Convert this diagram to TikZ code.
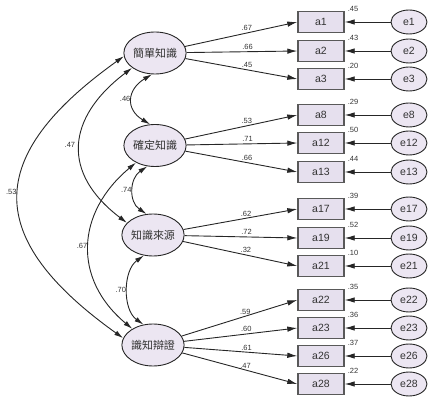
\documentclass[tikz,border=0pt]{standalone}
\usepackage{fontspec}
\setmainfont{Liberation Sans}
\newfontfamily\cjk{Noto Sans CJK TC}
\usetikzlibrary{arrows.meta,shapes.geometric}
\definecolor{lavfill}{HTML}{ECE6F2}
\definecolor{boxfill}{HTML}{E6E0EE}
\definecolor{txtgray}{HTML}{333333}

\begin{document}
\begin{tikzpicture}[x=1pt, y=-1pt,
  latent/.style={ellipse, draw=black!85, line width=0.9pt, fill=lavfill, inner sep=0pt,
                 minimum width=58pt, minimum height=42pt, text=txtgray,
                 font=\cjk\fontsize{11}{12}\selectfont},
  item/.style={draw=black!65, line width=1.4pt, fill=boxfill, minimum width=46pt,
               minimum height=21pt, inner sep=0pt, text=txtgray,
               font=\fontsize{10.5}{12}\selectfont},
  err/.style={ellipse, draw=black!85, line width=0.9pt, fill=lavfill, inner sep=0pt,
              minimum width=36pt, minimum height=24pt, text=txtgray,
              font=\fontsize{10.5}{12}\selectfont},
  arr/.style={-{Latex[length=10pt,width=5.5pt]}, line width=0.9pt, draw=black!85},
  cov/.style={{Latex[length=9pt,width=5pt]}-{Latex[length=9pt,width=5pt]},
              line width=0.9pt, draw=black!85},
  lbl/.style={font=\fontsize{7.5}{8}\selectfont, text=txtgray, inner sep=1.5pt},
  var/.style={lbl, anchor=south west, inner sep=1pt, xshift=2pt, yshift=-2pt}
]
\useasboundingbox (0,0) rectangle (432,401);

% latent factors
\node[latent] (simple) at (155,53)  {簡單知識};
\node[latent] (certain) at (155,145.5) {確定知識};
\node[latent] (source) at (153,235) {知識來源};
\node[latent] (justify) at (153,345) {識知辯證};

% observed items
\node[item] (a1)  at (321,22)  {a1};
\node[item] (a2)  at (321,51)  {a2};
\node[item] (a3)  at (321,79)  {a3};
\node[item] (a8)  at (321,115) {a8};
\node[item] (a12) at (321,143) {a12};
\node[item] (a13) at (321,172) {a13};
\node[item] (a17) at (321,209) {a17};
\node[item] (a19) at (321,238) {a19};
\node[item] (a21) at (321,266) {a21};
\node[item] (a22) at (321,300) {a22};
\node[item] (a23) at (321,328) {a23};
\node[item] (a26) at (321,356) {a26};
\node[item] (a28) at (321,384) {a28};

% error terms
\node[err] (e1)  at (409,22)  {e1};
\node[err] (e2)  at (409,51)  {e2};
\node[err] (e3)  at (409,79)  {e3};
\node[err] (e8)  at (409,115) {e8};
\node[err] (e12) at (409,143) {e12};
\node[err] (e13) at (409,172) {e13};
\node[err] (e17) at (409,209) {e17};
\node[err] (e19) at (409,238) {e19};
\node[err] (e21) at (409,266) {e21};
\node[err] (e22) at (409,300) {e22};
\node[err] (e23) at (409,328) {e23};
\node[err] (e26) at (409,356) {e26};
\node[err] (e28) at (409,384) {e28};

% squared multiple correlations
\node[var] at (a1.north east)  {.45};
\node[var] at (a2.north east)  {.43};
\node[var] at (a3.north east)  {.20};
\node[var] at (a8.north east)  {.29};
\node[var] at (a12.north east) {.50};
\node[var] at (a13.north east) {.44};
\node[var] at (a17.north east) {.39};
\node[var] at (a19.north east) {.52};
\node[var] at (a21.north east) {.10};
\node[var] at (a22.north east) {.35};
\node[var] at (a23.north east) {.36};
\node[var] at (a26.north east) {.37};
\node[var] at (a28.north east) {.22};

% loadings
\draw[arr] (simple) -- node[lbl,above,pos=0.55]{.67} (a1.west);
\draw[arr] (simple) -- node[lbl,above,pos=0.55]{.66} (a2.west);
\draw[arr] (simple) -- node[lbl,above,pos=0.55]{.45} (a3.west);
\draw[arr] (certain) -- node[lbl,above,pos=0.55]{.53} (a8.west);
\draw[arr] (certain) -- node[lbl,above,pos=0.55]{.71} (a12.west);
\draw[arr] (certain) -- node[lbl,above,pos=0.55]{.66} (a13.west);
\draw[arr] (source) -- node[lbl,above,pos=0.55]{.62} (a17.west);
\draw[arr] (source) -- node[lbl,above,pos=0.55]{.72} (a19.west);
\draw[arr] (source) -- node[lbl,above,pos=0.55]{.32} (a21.west);
\draw[arr] (justify) -- node[lbl,above,pos=0.55]{.59} (a22.west);
\draw[arr] (justify) -- node[lbl,above,pos=0.55]{.60} (a23.west);
\draw[arr] (justify) -- node[lbl,above,pos=0.55]{.61} (a26.west);
\draw[arr] (justify) -- node[lbl,above,pos=0.55]{.47} (a28.west);

% errors to items
\draw[arr] (e1) -- (a1);
\draw[arr] (e2) -- (a2);
\draw[arr] (e3) -- (a3);
\draw[arr] (e8) -- (a8);
\draw[arr] (e12) -- (a12);
\draw[arr] (e13) -- (a13);
\draw[arr] (e17) -- (a17);
\draw[arr] (e19) -- (a19);
\draw[arr] (e21) -- (a21);
\draw[arr] (e22) -- (a22);
\draw[arr] (e23) -- (a23);
\draw[arr] (e26) -- (a26);
\draw[arr] (e28) -- (a28);

% factor covariances
\draw[cov] (simple.262) .. controls +(-25,15) and +(-25,-15) .. node[lbl,left]{.46} (certain.103);
\draw[cov] (simple.213) .. controls +(-66,50) and +(-66,-50) .. node[lbl,left,xshift=-3pt]{.47} (source.155);
\draw[cov] (simple.186) .. controls +(-140,100) and +(-140,-100) .. node[lbl,left,yshift=5pt]{.53} (justify.167);
\draw[cov] (certain.250) .. controls +(-18,12) and +(-18,-12) .. node[lbl,left]{.74} (source.107);
\draw[cov] (certain.222) .. controls +(-60,50) and +(-60,-50) .. node[lbl,left]{.67} (justify.142);
\draw[cov] (source.246) .. controls +(-21,15) and +(-21,-15) .. node[lbl,left]{.70} (justify.115);
\end{tikzpicture}
\end{document}
